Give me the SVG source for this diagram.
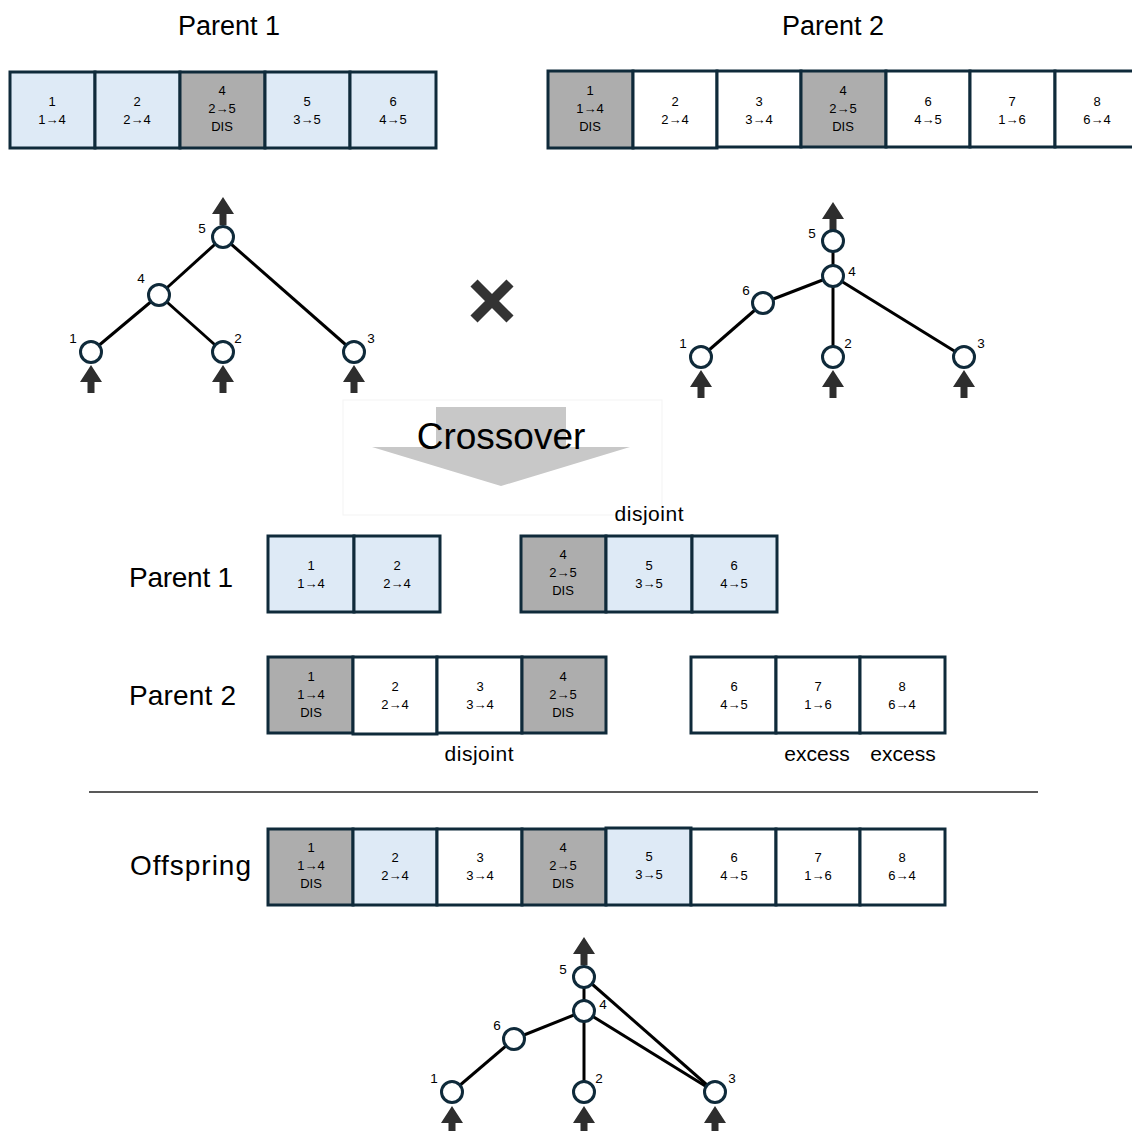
<svg xmlns="http://www.w3.org/2000/svg" xmlns:xlink="http://www.w3.org/1999/xlink" width="1132" height="1131" viewBox="0 0 1132 1131">
<style>
text{font-family:"Liberation Sans",Arial,sans-serif;fill:#000}
.title{font-size:27px;text-anchor:middle}
.lbl{font-size:28px}
.note{font-size:21px;text-anchor:middle}
.ct{font-size:13px;text-anchor:middle}
.nl{font-size:13.5px;text-anchor:middle}
.cell{stroke:#0f2a3a;stroke-width:3}
.blue{fill:#deeaf6}
.gray{fill:#adadad}
.white{fill:#ffffff}
.node{fill:#fff;stroke:#0f2a3a;stroke-width:3}
.edge{stroke:#000;stroke-width:3;fill:none}
.arr{fill:#2e2e2e}
</style>
<defs>
<path id="up" d="M0,0 L11,17 L3.5,17 L3.5,28 L-3.5,28 L-3.5,17 L-11,17 Z"/>
</defs>
<rect width="1132" height="1131" fill="#fff"/>

<g id="titles">
<text class="title" x="229" y="35">Parent 1</text>
<text class="title" x="833" y="35">Parent 2</text>
</g>

<!-- Parent 1 top genome -->
<g id="p1-genome">
<rect class="cell blue" x="10" y="72" width="85" height="76"/>
<rect class="cell blue" x="95" y="72" width="85" height="76"/>
<rect class="cell gray" x="180" y="72" width="85" height="76"/>
<rect class="cell blue" x="265" y="72" width="85" height="76"/>
<rect class="cell blue" x="350" y="72" width="86" height="76"/>
<text class="ct" x="52" y="106">1</text><text class="ct" x="52" y="124">1→4</text>
<text class="ct" x="137" y="106">2</text><text class="ct" x="137" y="124">2→4</text>
<text class="ct" x="222" y="95">4</text><text class="ct" x="222" y="113">2→5</text><text class="ct" x="222" y="131">DIS</text>
<text class="ct" x="307" y="106">5</text><text class="ct" x="307" y="124">3→5</text>
<text class="ct" x="393" y="106">6</text><text class="ct" x="393" y="124">4→5</text>
</g>

<!-- Parent 2 top genome -->
<g id="p2-genome">
<rect class="cell gray" x="548" y="71" width="85" height="77"/>
<rect class="cell white" x="633" y="71" width="84" height="77"/>
<rect class="cell white" x="717" y="71" width="84" height="76"/>
<rect class="cell gray" x="801" y="71" width="85" height="76"/>
<rect class="cell white" x="886" y="71" width="84" height="76"/>
<rect class="cell white" x="970" y="71" width="85" height="76"/>
<rect class="cell white" x="1055" y="71" width="84" height="76"/>
<text class="ct" x="590" y="95">1</text><text class="ct" x="590" y="113">1→4</text><text class="ct" x="590" y="131">DIS</text>
<text class="ct" x="675" y="106">2</text><text class="ct" x="675" y="124">2→4</text>
<text class="ct" x="759" y="106">3</text><text class="ct" x="759" y="124">3→4</text>
<text class="ct" x="843" y="95">4</text><text class="ct" x="843" y="113">2→5</text><text class="ct" x="843" y="131">DIS</text>
<text class="ct" x="928" y="106">6</text><text class="ct" x="928" y="124">4→5</text>
<text class="ct" x="1012" y="106">7</text><text class="ct" x="1012" y="124">1→6</text>
<text class="ct" x="1097" y="106">8</text><text class="ct" x="1097" y="124">6→4</text>
</g>

<!-- connectors -->
<g id="connectors">
<line class="edge" x1="223" y1="237" x2="159" y2="295"/>
<line class="edge" x1="223" y1="237" x2="354" y2="352"/>
<line class="edge" x1="159" y1="295" x2="91" y2="352"/>
<line class="edge" x1="159" y1="295" x2="223" y2="352"/>
<use href="#up" xlink:href="#up" class="arr" x="223" y="197"/>
<use href="#up" xlink:href="#up" class="arr" x="91" y="365"/>
<use href="#up" xlink:href="#up" class="arr" x="223" y="365"/>
<use href="#up" xlink:href="#up" class="arr" x="354" y="365"/>
<line class="edge" x1="833" y1="241" x2="833" y2="276"/>
<line class="edge" x1="833" y1="276" x2="763" y2="303"/>
<line class="edge" x1="763" y1="303" x2="701" y2="357"/>
<line class="edge" x1="833" y1="276" x2="833" y2="357"/>
<line class="edge" x1="833" y1="276" x2="964" y2="357"/>
<use href="#up" xlink:href="#up" class="arr" x="833" y="202"/>
<use href="#up" xlink:href="#up" class="arr" x="701" y="370"/>
<use href="#up" xlink:href="#up" class="arr" x="833" y="370"/>
<use href="#up" xlink:href="#up" class="arr" x="964" y="370"/>
<line class="edge" x1="584" y1="977" x2="584" y2="1011"/>
<line class="edge" x1="584" y1="977" x2="715" y2="1092"/>
<line class="edge" x1="584" y1="1011" x2="715" y2="1092"/>
<line class="edge" x1="584" y1="1011" x2="514" y2="1039"/>
<line class="edge" x1="514" y1="1039" x2="452" y2="1092"/>
<line class="edge" x1="584" y1="1011" x2="584" y2="1092"/>
<use href="#up" xlink:href="#up" class="arr" x="584" y="937"/>
<use href="#up" xlink:href="#up" class="arr" x="452" y="1106"/>
<use href="#up" xlink:href="#up" class="arr" x="584" y="1106"/>
<use href="#up" xlink:href="#up" class="arr" x="715" y="1106"/>
</g>

<g id="p1-n5"><circle class="node" cx="223" cy="237" r="10.5"/><text class="nl" x="202" y="233">5</text></g>
<g id="p1-n4"><circle class="node" cx="159" cy="295" r="10.5"/><text class="nl" x="141" y="283">4</text></g>
<g id="p1-n1"><circle class="node" cx="91" cy="352" r="10.5"/><text class="nl" x="73" y="343">1</text></g>
<g id="p1-n2"><circle class="node" cx="223" cy="352" r="10.5"/><text class="nl" x="238" y="343">2</text></g>
<g id="p1-n3"><circle class="node" cx="354" cy="352" r="10.5"/><text class="nl" x="371" y="343">3</text></g>

<g id="cross">
<path d="M474,283 L510,319 M510,283 L474,319" stroke="#333" stroke-width="10" fill="none"/>
</g>

<g id="p2-n5"><circle class="node" cx="833" cy="241" r="10.5"/><text class="nl" x="812" y="238">5</text></g>
<g id="p2-n4"><circle class="node" cx="833" cy="276" r="10.5"/><text class="nl" x="852" y="276">4</text></g>
<g id="p2-n6"><circle class="node" cx="763" cy="303" r="10.5"/><text class="nl" x="746" y="295">6</text></g>
<g id="p2-n1"><circle class="node" cx="701" cy="357" r="10.5"/><text class="nl" x="683" y="348">1</text></g>
<g id="p2-n2"><circle class="node" cx="833" cy="357" r="10.5"/><text class="nl" x="848" y="348">2</text></g>
<g id="p2-n3"><circle class="node" cx="964" cy="357" r="10.5"/><text class="nl" x="981" y="348">3</text></g>

<g id="crossover">
<rect x="343" y="400" width="319" height="115" fill="none" stroke="#f3f3f3" stroke-width="1"/>
<path d="M436,407 L566,407 L566,447 L630,447 L501,486 L372,447 L436,447 Z" fill="#c8c8c8"/>
<text x="501" y="449" font-size="37" text-anchor="middle">Crossover</text>
</g>

<g id="mid-p1">
<text class="lbl" x="129" y="587" textLength="104">Parent 1</text>
<text class="note" x="649" y="521" textLength="69">disjoint</text>
<rect class="cell blue" x="268" y="536" width="86" height="76"/>
<rect class="cell blue" x="354" y="536" width="86" height="76"/>
<rect class="cell gray" x="521" y="536" width="85" height="76"/>
<rect class="cell blue" x="606" y="536" width="86" height="76"/>
<rect class="cell blue" x="692" y="536" width="85" height="76"/>
<text class="ct" x="311" y="570">1</text><text class="ct" x="311" y="588">1→4</text>
<text class="ct" x="397" y="570">2</text><text class="ct" x="397" y="588">2→4</text>
<text class="ct" x="563" y="559">4</text><text class="ct" x="563" y="577">2→5</text><text class="ct" x="563" y="595">DIS</text>
<text class="ct" x="649" y="570">5</text><text class="ct" x="649" y="588">3→5</text>
<text class="ct" x="734" y="570">6</text><text class="ct" x="734" y="588">4→5</text>
</g>

<g id="mid-p2">
<text class="lbl" x="129" y="705" textLength="107">Parent 2</text>
<rect class="cell gray" x="268" y="657" width="85" height="76"/>
<rect class="cell white" x="353" y="657" width="84" height="77"/>
<rect class="cell white" x="437" y="657" width="85" height="76"/>
<rect class="cell gray" x="522" y="657" width="84" height="76"/>
<rect class="cell white" x="691" y="657" width="85" height="76"/>
<rect class="cell white" x="776" y="657" width="84" height="76"/>
<rect class="cell white" x="860" y="657" width="85" height="76"/>
<text class="ct" x="311" y="681">1</text><text class="ct" x="311" y="699">1→4</text><text class="ct" x="311" y="717">DIS</text>
<text class="ct" x="395" y="691">2</text><text class="ct" x="395" y="709">2→4</text>
<text class="ct" x="480" y="691">3</text><text class="ct" x="480" y="709">3→4</text>
<text class="ct" x="563" y="681">4</text><text class="ct" x="563" y="699">2→5</text><text class="ct" x="563" y="717">DIS</text>
<text class="ct" x="734" y="691">6</text><text class="ct" x="734" y="709">4→5</text>
<text class="ct" x="818" y="691">7</text><text class="ct" x="818" y="709">1→6</text>
<text class="ct" x="902" y="691">8</text><text class="ct" x="902" y="709">6→4</text>
<text class="note" x="479" y="761" textLength="69">disjoint</text>
<text class="note" x="817" y="761">excess</text>
<text class="note" x="903" y="761">excess</text>
</g>

<g id="divider">
<line x1="89" y1="792" x2="1038" y2="792" stroke="#222" stroke-width="1.5"/>
</g>

<g id="offspring-genome">
<text class="lbl" x="130" y="875" textLength="121">Offspring</text>
<rect class="cell gray" x="268" y="829" width="85" height="76"/>
<rect class="cell blue" x="353" y="829" width="84" height="76"/>
<rect class="cell white" x="437" y="829" width="85" height="76"/>
<rect class="cell gray" x="522" y="829" width="84" height="76"/>
<rect class="cell blue" x="606" y="828" width="85" height="77"/>
<rect class="cell white" x="691" y="829" width="85" height="76"/>
<rect class="cell white" x="776" y="829" width="84" height="76"/>
<rect class="cell white" x="860" y="829" width="85" height="76"/>
<text class="ct" x="311" y="852">1</text><text class="ct" x="311" y="870">1→4</text><text class="ct" x="311" y="888">DIS</text>
<text class="ct" x="395" y="862">2</text><text class="ct" x="395" y="880">2→4</text>
<text class="ct" x="480" y="862">3</text><text class="ct" x="480" y="880">3→4</text>
<text class="ct" x="563" y="852">4</text><text class="ct" x="563" y="870">2→5</text><text class="ct" x="563" y="888">DIS</text>
<text class="ct" x="649" y="861">5</text><text class="ct" x="649" y="879">3→5</text>
<text class="ct" x="734" y="862">6</text><text class="ct" x="734" y="880">4→5</text>
<text class="ct" x="818" y="862">7</text><text class="ct" x="818" y="880">1→6</text>
<text class="ct" x="902" y="862">8</text><text class="ct" x="902" y="880">6→4</text>
</g>

<g id="o-n5"><circle class="node" cx="584" cy="977" r="10.5"/><text class="nl" x="563" y="974">5</text></g>
<g id="o-n4"><circle class="node" cx="584" cy="1011" r="10.5"/><text class="nl" x="603" y="1009">4</text></g>
<g id="o-n6"><circle class="node" cx="514" cy="1039" r="10.5"/><text class="nl" x="497" y="1030">6</text></g>
<g id="o-n1"><circle class="node" cx="452" cy="1092" r="10.5"/><text class="nl" x="434" y="1083">1</text></g>
<g id="o-n2"><circle class="node" cx="584" cy="1092" r="10.5"/><text class="nl" x="599" y="1083">2</text></g>
<g id="o-n3"><circle class="node" cx="715" cy="1092" r="10.5"/><text class="nl" x="732" y="1083">3</text></g>
</svg>
